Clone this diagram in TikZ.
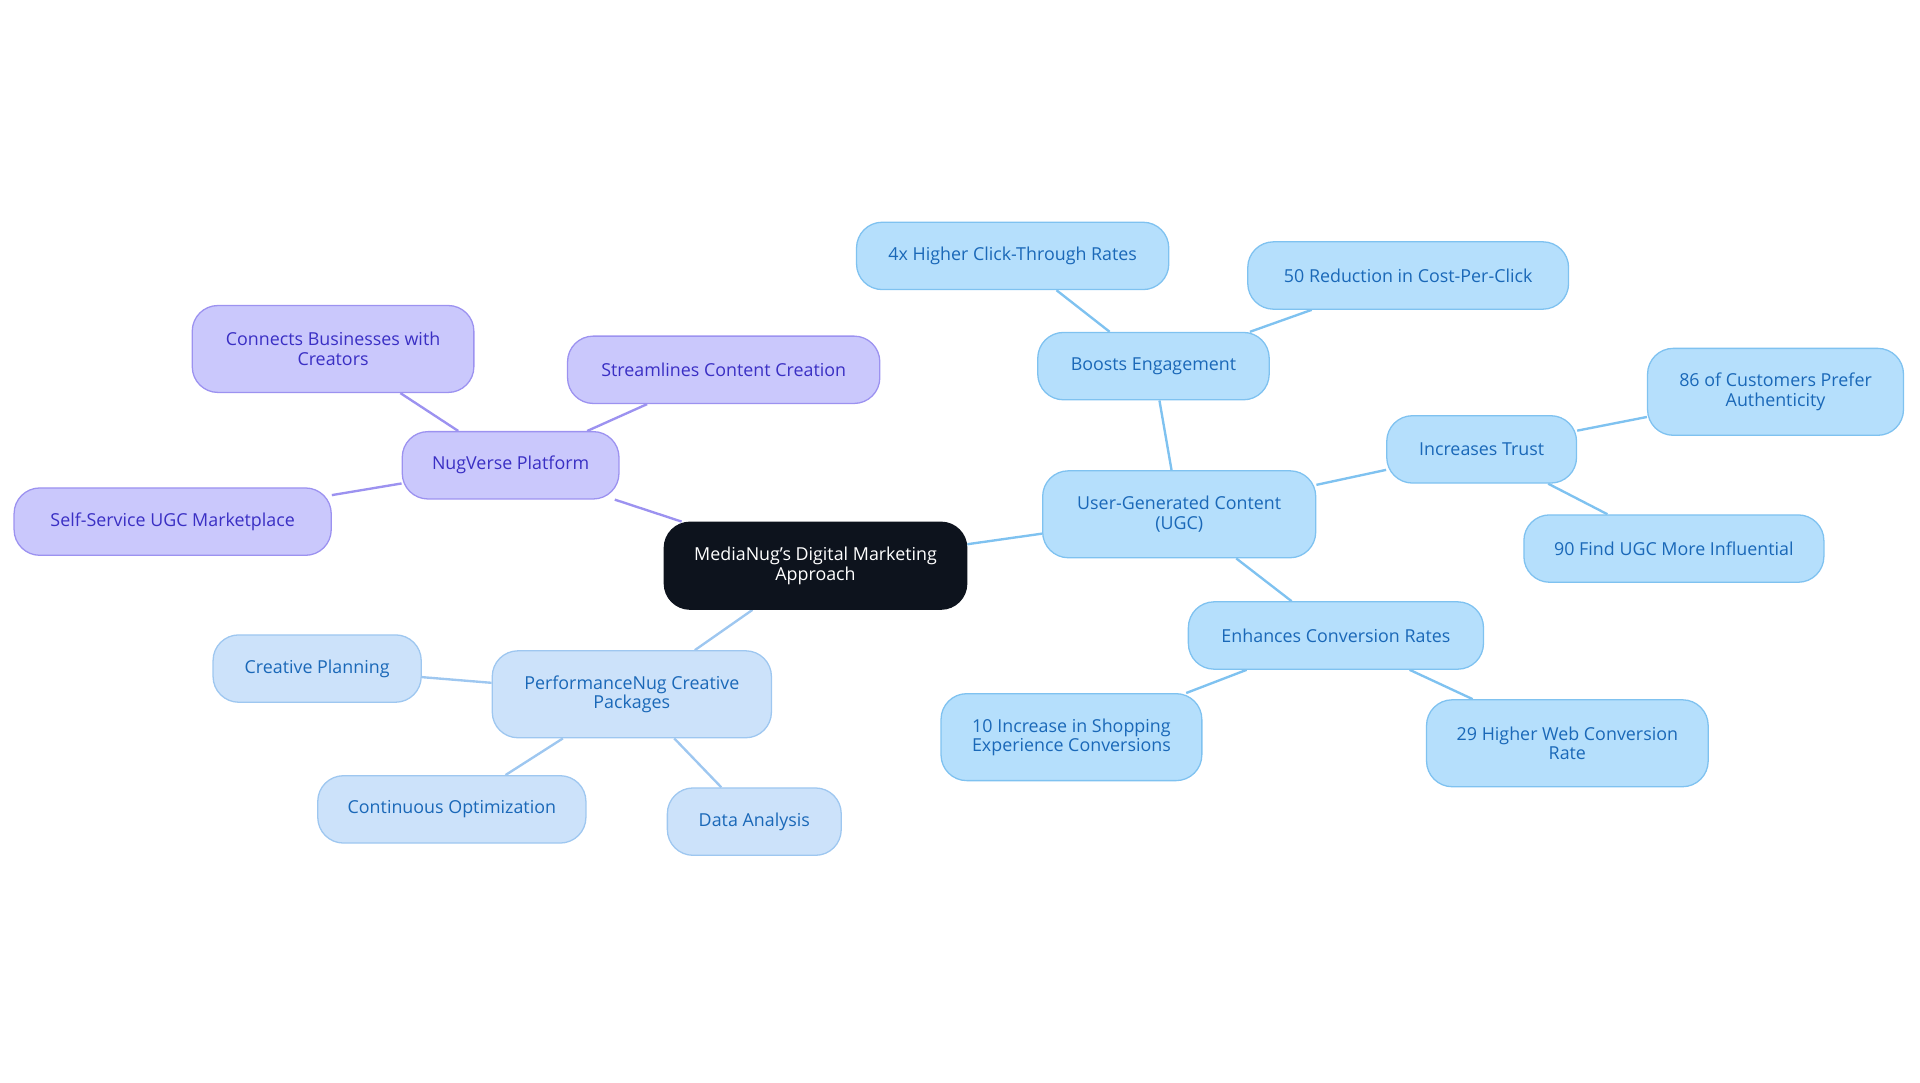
\documentclass[tikz,border=0pt]{standalone}
\usepackage{fontspec}
\setmainfont{Open Sans}
\usetikzlibrary{backgrounds}
\definecolor{pf}{HTML}{CAC8FC}\definecolor{pd}{HTML}{9C92F0}\definecolor{pt}{HTML}{3A2FC4}
\definecolor{bf}{HTML}{B5DFFC}\definecolor{bd}{HTML}{7FC2F0}\definecolor{bt}{HTML}{1A68B8}
\definecolor{cf}{HTML}{CCE2FA}\definecolor{cd}{HTML}{9EC7F0}
\definecolor{dk}{HTML}{0D131D}
\tikzset{
 box/.style={rounded corners=0.42cm,minimum height=1.1cm,align=center,font=\fontsize{8.3pt}{9pt}\selectfont,line width=0.6pt,inner sep=0pt},
 tall/.style={minimum height=1.42cm},
 pbox/.style={box,fill=pf,draw=pd,text=pt},
 bbox/.style={box,fill=bf,draw=bd,text=bt},
 cbox/.style={box,fill=cf,draw=cd,text=bt},
 pe/.style={draw=pd,line width=1.1pt},
 bl/.style={draw=bd,line width=1.1pt},
 ce/.style={draw=cd,line width=1.1pt}
}
\begin{document}
\begin{tikzpicture}
\useasboundingbox (0,0) rectangle (31.36,-17.68);
\node[box,tall,fill=dk,draw=dk,text=white,minimum width=4.94cm] (c) at (13.32,-9.24) {MediaNug's Digital Marketing\\Approach};
\node[bbox,tall,minimum width=4.46cm] (u) at (19.26,-8.40) {User-Generated Content\\(UGC)};
\node[bbox,minimum width=3.78cm] (eng) at (18.84,-5.98) {Boosts Engagement};
\node[bbox,minimum width=5.10cm] (b1) at (16.54,-4.18) {4x Higher Click-Through Rates};
\node[bbox,minimum width=5.24cm] (b2) at (23.00,-4.50) {50 Reduction in Cost-Per-Click};
\node[bbox,minimum width=3.10cm] (it) at (24.20,-7.34) {Increases Trust};
\node[bbox,tall,minimum width=4.18cm] (i1) at (29.00,-6.40) {86 of Customers Prefer\\Authenticity};
\node[bbox,minimum width=4.90cm] (i2) at (27.34,-8.96) {90 Find UGC More Influential};
\node[bbox,minimum width=4.82cm] (ec) at (21.82,-10.38) {Enhances Conversion Rates};
\node[bbox,tall,minimum width=4.26cm] (e1) at (17.50,-12.04) {10 Increase in Shopping\\Experience Conversions};
\node[bbox,tall,minimum width=4.60cm] (e2) at (25.60,-12.14) {29 Higher Web Conversion\\Rate};
\node[pbox,minimum width=3.54cm] (n) at (8.34,-7.60) {NugVerse Platform};
\node[pbox,tall,minimum width=4.60cm] (n1) at (5.44,-5.70) {Connects Businesses with\\Creators};
\node[pbox,minimum width=5.10cm] (n2) at (11.82,-6.04) {Streamlines Content Creation};
\node[pbox,minimum width=5.18cm] (n3) at (2.82,-8.52) {Self-Service UGC Marketplace};
\node[cbox,tall,minimum width=4.56cm] (p) at (10.32,-11.34) {PerformanceNug Creative\\Packages};
\node[cbox,minimum width=3.40cm] (p1) at (5.18,-10.92) {Creative Planning};
\node[cbox,minimum width=4.38cm] (p2) at (7.38,-13.22) {Continuous Optimization};
\node[cbox,minimum width=2.84cm] (p3) at (12.32,-13.42) {Data Analysis};
\begin{scope}[on background layer]
\draw[bl] (c)--(u); \draw[bl] (u)--(eng); \draw[bl] (eng)--(b1); \draw[bl] (eng)--(b2);
\draw[bl] (u)--(it); \draw[bl] (it)--(i1); \draw[bl] (it)--(i2);
\draw[bl] (u)--(ec); \draw[bl] (ec)--(e1); \draw[bl] (ec)--(e2);
\draw[pe] (c)--(n); \draw[pe] (n)--(n1); \draw[pe] (n)--(n2); \draw[pe] (n)--(n3);
\draw[ce] (c)--(p); \draw[ce] (p)--(p1); \draw[ce] (p)--(p2); \draw[ce] (p)--(p3);
\end{scope}
\end{tikzpicture}
\end{document}
